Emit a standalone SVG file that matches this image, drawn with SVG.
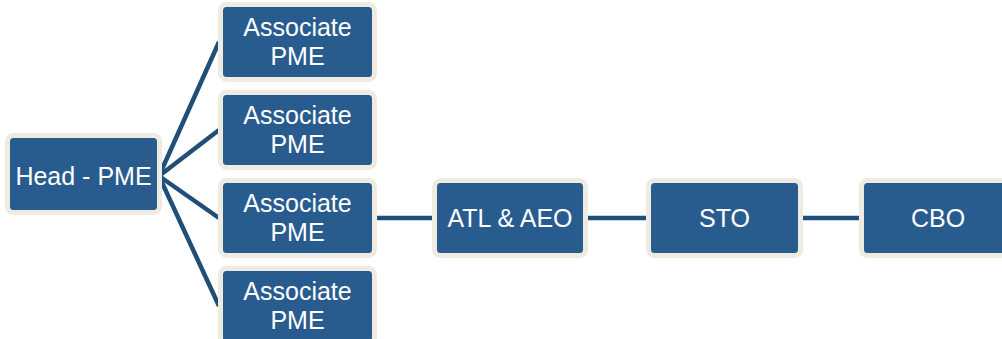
<svg xmlns="http://www.w3.org/2000/svg" width="1002" height="339" viewBox="0 0 1002 339">
<style>
.box{fill:#285C8F;stroke:#EEECE1;stroke-width:5}
.lbl{fill:#FFFFFF;font-family:"Liberation Sans",Arial,sans-serif;font-size:25px;text-anchor:middle}
.conn{stroke:#1F4E79;stroke-width:4.5;fill:none}
</style>
<rect width="1002" height="339" fill="#FFFFFF"/>
<g id="connectors">
<line class="conn" x1="159" y1="176" x2="219" y2="42"/>
<line class="conn" x1="159" y1="176" x2="219" y2="130"/>
<line class="conn" x1="159" y1="176" x2="219" y2="218"/>
<line class="conn" x1="159" y1="176" x2="219" y2="306"/>
<line class="conn" x1="376" y1="218" x2="434" y2="218"/>
<line class="conn" x1="587" y1="218" x2="648" y2="218"/>
<line class="conn" x1="802" y1="218" x2="861" y2="218"/>
</g>
<g id="head">
<rect class="box" x="7.5" y="135.5" width="152" height="77" rx="6"/>
<text class="lbl" x="83.5" y="185">Head - PME</text>
</g>
<g id="assoc1">
<rect class="box" x="220.5" y="4.5" width="154" height="75" rx="6"/>
<text class="lbl" x="297.5" y="36">Associate</text>
<text class="lbl" x="297.5" y="65">PME</text>
</g>
<g id="assoc2">
<rect class="box" x="220.5" y="92.5" width="154" height="75" rx="6"/>
<text class="lbl" x="297.5" y="124">Associate</text>
<text class="lbl" x="297.5" y="153">PME</text>
</g>
<g id="assoc3">
<rect class="box" x="220.5" y="180.5" width="154" height="75" rx="6"/>
<text class="lbl" x="297.5" y="212">Associate</text>
<text class="lbl" x="297.5" y="241">PME</text>
</g>
<g id="assoc4">
<rect class="box" x="220.5" y="268.5" width="154" height="75" rx="6"/>
<text class="lbl" x="297.5" y="300">Associate</text>
<text class="lbl" x="297.5" y="329">PME</text>
</g>
<g id="atl">
<rect class="box" x="434.5" y="180.5" width="151" height="75" rx="6"/>
<text class="lbl" x="510" y="227">ATL &amp; AEO</text>
</g>
<g id="sto">
<rect class="box" x="648.5" y="180.5" width="152" height="75" rx="6"/>
<text class="lbl" x="724.5" y="227">STO</text>
</g>
<g id="cbo">
<rect class="box" x="861.5" y="180.5" width="153" height="75" rx="6"/>
<text class="lbl" x="938" y="227">CBO</text>
</g>
</svg>
